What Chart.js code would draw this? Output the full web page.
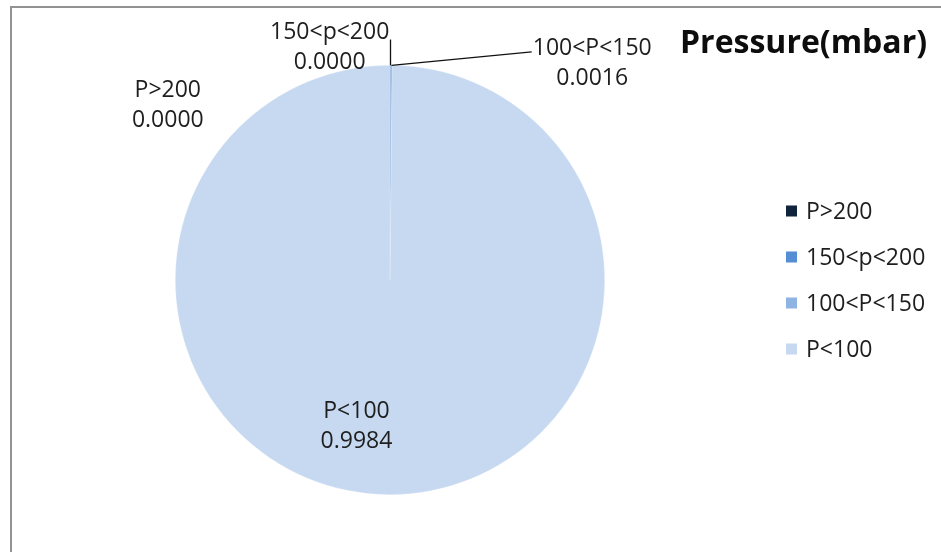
<!DOCTYPE html>
<html>
<head>
<meta charset="utf-8">
<script src="https://cdn.jsdelivr.net/npm/chart.js@4/dist/chart.umd.min.js"></script>
<style>
  html, body { margin: 0; padding: 0; background: #ffffff; }
  #wrap { position: relative; width: 941px; height: 552px; overflow: hidden; }
  #frame { position: absolute; left: 10px; top: 6px; width: 1000px; height: 1000px;
           border-left: 2px solid #929292; border-top: 2px solid #929292; }
  #chart { position: absolute; left: 0; top: 0; }
</style>
</head>
<body>
<div id="wrap">
  <div id="frame"></div>
  <canvas id="chart" width="941" height="552"></canvas>
</div>
<script>
// Pressure distribution (fraction of samples per band)
const categories = ['P>200', '150<p<200', '100<P<150', 'P<100'];
const shares = [0.0000, 0.0000, 0.0016, 0.9984];
const valueLabels = ['0.0000', '0.0000', '0.0016', '0.9984'];
const sliceColors = ['#10243e', '#558ed5', '#8eb4e3', '#c6d9f1'];
const chartTitle = 'Pressure(mbar)';

const FONT = '"Open Sans", "DejaVu Sans", sans-serif';
const TEXT = '#1e1e1e';

// Label placement, relative to the pie centre in units of its radius
const labelSpots = [
  { dx: -1.035, dy: -0.814 },
  { dx: -0.281, dy: -1.084 },
  { dx: 0.942, dy: -1.009 },
  { dx: -0.156, dy: 0.684 }
];

const annotate = {
  id: 'annotate',
  afterDatasetsDraw(chart) {
    const ctx = chart.ctx;
    const arcs = chart.getDatasetMeta(0).data;
    const cx = arcs[0].x, cy = arcs[0].y, r = arcs[0].outerRadius;

    // leader lines for the two thin slices at the top of the pie
    ctx.save();
    ctx.strokeStyle = '#111';
    ctx.lineWidth = 1.3;
    ctx.beginPath();
    ctx.moveTo(cx + 0.5, cy - r);
    ctx.lineTo(cx + 0.5, cy - r * 1.12);
    ctx.stroke();
    ctx.beginPath();
    ctx.moveTo(cx + 1.5, cy - r);
    ctx.lineTo(cx + r * 0.66, cy - r * 1.063);
    ctx.stroke();

    // category / value labels
    ctx.fillStyle = TEXT;
    ctx.font = '23px ' + FONT;
    ctx.textAlign = 'center';
    ctx.textBaseline = 'middle';
    categories.forEach((name, i) => {
      const x = cx + labelSpots[i].dx * r;
      const y = cy + labelSpots[i].dy * r;
      ctx.fillText(name, x, y - 15);
      ctx.fillText(valueLabels[i], x, y + 15);
    });

    // title
    ctx.font = 'bold 32px ' + FONT;
    ctx.textAlign = 'left';
    ctx.textBaseline = 'alphabetic';
    ctx.fillStyle = '#0d0d0d';
    ctx.fillText(chartTitle, 680, 53);

    // legend
    ctx.font = '23px ' + FONT;
    ctx.textBaseline = 'middle';
    categories.forEach((name, i) => {
      const y = 211 + i * 46;
      ctx.fillStyle = sliceColors[i];
      ctx.fillRect(786, y - 5.5, 11, 11);
      ctx.fillStyle = TEXT;
      ctx.fillText(name, 806, y + 1);
    });
    ctx.restore();
  }
};

new Chart(document.getElementById('chart'), {
  type: 'pie',
  data: {
    labels: categories,
    datasets: [{
      data: shares,
      backgroundColor: sliceColors,
      borderColor: 'rgba(255,255,255,0.35)',
      borderWidth: 0.6
    }]
  },
  options: {
    responsive: false,
    animation: false,
    rotation: 0,
    layout: { padding: { left: 175, right: 336, top: 65, bottom: 57 } },
    plugins: {
      legend: { display: false },
      tooltip: { enabled: false },
      title: { display: false }
    }
  },
  plugins: [annotate]
});
</script>
</body>
</html>
